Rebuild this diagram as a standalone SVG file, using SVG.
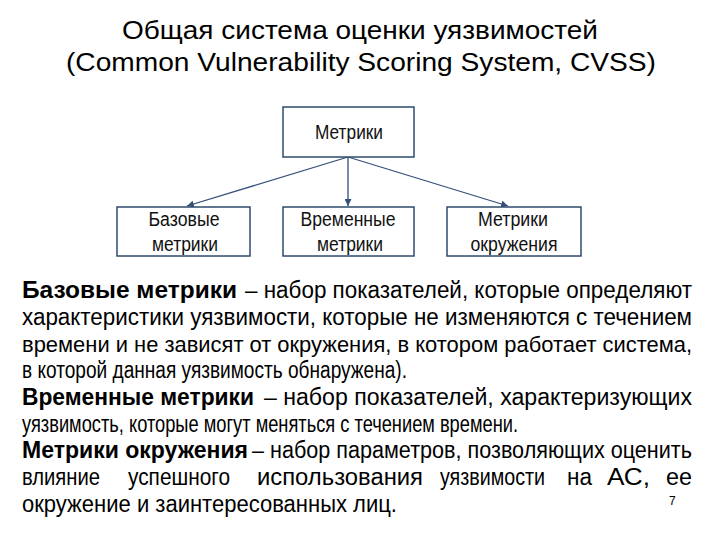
<svg xmlns="http://www.w3.org/2000/svg" width="720" height="540" viewBox="0 0 720 540">
<style>
.title{font-family:"Liberation Sans",Arial,sans-serif;font-size:25px;fill:#000;text-anchor:middle}
.node rect{fill:#fff;stroke:#2e4a6b;stroke-width:1.5}
.node text{font-family:"Liberation Sans Narrow","Arial Narrow","Liberation Sans",sans-serif;font-size:20px;fill:#111;text-anchor:middle}
.conn line{stroke:#34507a;stroke-width:1.3;fill:none}
.body{font-family:"Liberation Sans Narrow","Arial Narrow","Liberation Sans",sans-serif;font-size:23px;fill:#000}
.b{font-weight:bold}
.pg{font-family:"Liberation Sans",Arial,sans-serif;font-size:12px;fill:#000}
</style>
<defs>
<marker id="ah" viewBox="0 0 10 10" refX="10" refY="5" markerWidth="7" markerHeight="7" orient="auto" markerUnits="userSpaceOnUse">
<path d="M0,0 L10,5 L0,10 z" fill="#34507a"/>
</marker>
</defs>
<rect width="720" height="540" fill="#fff"/>
<g id="title">
<text class="title" x="360" y="39" textLength="476" lengthAdjust="spacingAndGlyphs">Общая система оценки уязвимостей</text>
<text class="title" x="361" y="71" textLength="590" lengthAdjust="spacingAndGlyphs">(Common Vulnerability Scoring System, CVSS)</text>
</g>
<g id="connectors" class="conn">
<line x1="348" y1="157" x2="187" y2="206" marker-end="url(#ah)"/>
<line x1="348" y1="157" x2="348" y2="206" marker-end="url(#ah)"/>
<line x1="348" y1="157" x2="508" y2="206" marker-end="url(#ah)"/>
</g>
<g id="node-metrics" class="node">
<rect x="283" y="107" width="131" height="50"/>
<text x="349" y="139" textLength="68" lengthAdjust="spacingAndGlyphs">Метрики</text>
</g>
<g id="node-base" class="node">
<rect x="117" y="207" width="133" height="49"/>
<text x="184" y="226" textLength="71" lengthAdjust="spacingAndGlyphs">Базовые</text>
<text x="185" y="251" textLength="66" lengthAdjust="spacingAndGlyphs">метрики</text>
</g>
<g id="node-temporal" class="node">
<rect x="283" y="207" width="131" height="49"/>
<text x="348" y="226" textLength="95" lengthAdjust="spacingAndGlyphs">Временные</text>
<text x="350" y="251" textLength="66" lengthAdjust="spacingAndGlyphs">метрики</text>
</g>
<g id="node-env" class="node">
<rect x="447" y="207" width="134" height="49"/>
<text x="513" y="226" textLength="70" lengthAdjust="spacingAndGlyphs">Метрики</text>
<text x="514" y="251" textLength="87" lengthAdjust="spacingAndGlyphs">окружения</text>
</g>
<g id="body" class="body">
<text class="b" x="22" y="298" textLength="215" lengthAdjust="spacingAndGlyphs">Базовые метрики</text>
<text x="245" y="298" textLength="447" lengthAdjust="spacingAndGlyphs">– набор показателей, которые определяют</text>
<text x="22" y="325" textLength="670" lengthAdjust="spacingAndGlyphs">характеристики уязвимости, которые не изменяются с течением</text>
<text x="22" y="352" font-size="22" textLength="670" lengthAdjust="spacingAndGlyphs">времени и не зависят от окружения, в котором работает система,</text>
<text x="22" y="378" textLength="385" lengthAdjust="spacingAndGlyphs">в которой данная уязвимость обнаружена).</text>
<text class="b" x="22" y="405" textLength="232" lengthAdjust="spacingAndGlyphs">Временные метрики</text>
<text x="264" y="405" textLength="428" lengthAdjust="spacingAndGlyphs">– набор показателей, характеризующих</text>
<text x="22" y="432" textLength="496" lengthAdjust="spacingAndGlyphs">уязвимость, которые могут меняться с течением времени.</text>
<text class="b" x="22" y="458" textLength="226" lengthAdjust="spacingAndGlyphs">Метрики окружения</text>
<text x="252" y="458" textLength="440" lengthAdjust="spacingAndGlyphs">– набор параметров, позволяющих оценить</text>
<text x="22" y="485" textLength="78" lengthAdjust="spacingAndGlyphs">влияние</text>
<text x="128" y="485" textLength="102" lengthAdjust="spacingAndGlyphs">успешного</text>
<text x="257" y="485" textLength="166" lengthAdjust="spacingAndGlyphs">использования</text>
<text x="440" y="485" textLength="105" lengthAdjust="spacingAndGlyphs">уязвимости</text>
<text x="567" y="485" textLength="25" lengthAdjust="spacingAndGlyphs">на</text>
<text x="607" y="485" textLength="43" lengthAdjust="spacingAndGlyphs">АС,</text>
<text x="666" y="485" textLength="26" lengthAdjust="spacingAndGlyphs">ее</text>
<text x="22" y="512" textLength="375" lengthAdjust="spacingAndGlyphs">окружение и заинтересованных лиц.</text>
</g>
<text class="pg" x="669" y="505">7</text>
</svg>
